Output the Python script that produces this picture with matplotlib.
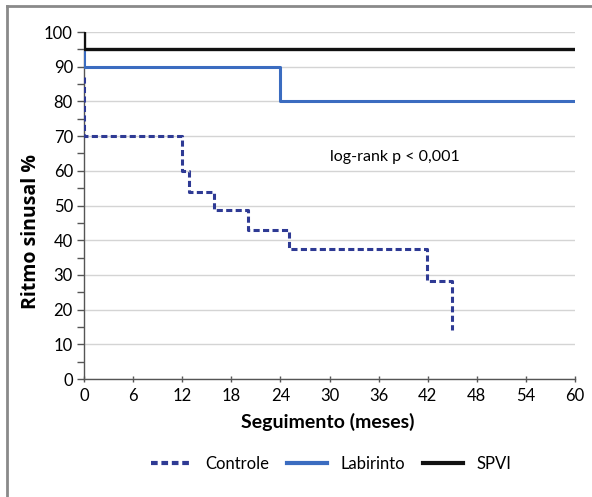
import matplotlib
matplotlib.use("Agg")
import matplotlib.pyplot as plt
from matplotlib.lines import Line2D
from matplotlib.ticker import MultipleLocator

plt.rcParams['font.family'] = ['Lato', 'DejaVu Sans']

# Kaplan-Meier step data (months, % sinus rhythm)
controle_x = [0, 0, 12, 12, 12.8, 12.8, 15.9, 15.9, 20.1, 20.1, 25.0, 25.0, 41.9, 41.9, 45.0, 45.0]
controle_y = [87, 70, 70, 60, 60, 54, 54, 48.7, 48.7, 42.8, 42.8, 37.4, 37.4, 28.2, 28.2, 14]
labirinto_x = [0, 0, 24, 24, 60]
labirinto_y = [95, 90, 90, 80, 80]
spvi_x = [0, 0, 60]
spvi_y = [100, 95, 95]

x_ticks = [0, 6, 12, 18, 24, 30, 36, 42, 48, 54, 60]
y_ticks = [0, 10, 20, 30, 40, 50, 60, 70, 80, 90, 100]

fig = plt.figure(figsize=(5.92, 4.97), dpi=100)
ax = fig.add_axes([0.1419, 0.2374, 0.8294, 0.6982])

c_ctrl = '#2e3a94'
c_lab = '#3b6cc0'
c_spvi = '#111111'

ax.plot(controle_x, controle_y, color=c_ctrl, lw=2.2, ls=(0, (2, 1.1)), zorder=3)
ax.plot(labirinto_x, labirinto_y, color=c_lab, lw=2.2, zorder=4)
ax.plot(spvi_x, spvi_y, color=c_spvi, lw=2.4, zorder=5)

ax.set_xlim(0, 60)
ax.set_ylim(0, 100)
ax.set_xticks(x_ticks)
ax.set_yticks(y_ticks)
ax.yaxis.set_minor_locator(MultipleLocator(5))
ax.grid(axis='y', which='major', color='#d4d4d4', lw=1.0, zorder=0)
for s in ['top', 'right']:
    ax.spines[s].set_visible(False)
for s in ['left', 'bottom']:
    ax.spines[s].set_color('#555555')
    ax.spines[s].set_linewidth(1.0)
ax.tick_params(axis='both', which='both', color='#555555', labelsize=12, width=1.0, pad=3)
ax.tick_params(axis='y', which='major', length=5)
ax.tick_params(axis='y', which='minor', length=5)
ax.tick_params(axis='x', which='major', length=5, direction='inout', pad=4)

ax.set_ylabel('Ritmo sinusal %', fontsize=14, fontweight='bold',
              family=['Open Sans', 'DejaVu Sans'])
ax.yaxis.set_label_coords(-0.108, 0.424)
ax.yaxis.label.set_va('center')
ax.set_xlabel('Seguimento (meses)', fontsize=14, fontweight='bold')
ax.xaxis.set_label_coords(0.496, -0.124)
ax.xaxis.label.set_va('center')

ax.text(30, 64, 'log-rank p < 0,001', fontsize=11.5, ha='left', va='center')

handles = [
    Line2D([], [], color=c_ctrl, lw=3, ls=(0, (1.6, 0.9))),
    Line2D([], [], color=c_lab, lw=3),
    Line2D([], [], color=c_spvi, lw=3),
]
fig.legend(handles, ['Controle', 'Labirinto', 'SPVI'], loc='center',
           bbox_to_anchor=(0.560, 0.066), ncol=3, frameon=False, fontsize=12,
           handlelength=2.4, columnspacing=1.1, handletextpad=0.8)

# partial outer frame (left and top visible)
fig.add_artist(Line2D([0.012, 0.012], [0.0, 0.988], transform=fig.transFigure,
                      color='#8a8a8a', lw=2))
fig.add_artist(Line2D([0.012, 1.0], [0.988, 0.988], transform=fig.transFigure,
                      color='#8a8a8a', lw=2))

fig.savefig('out.png', dpi=100)
